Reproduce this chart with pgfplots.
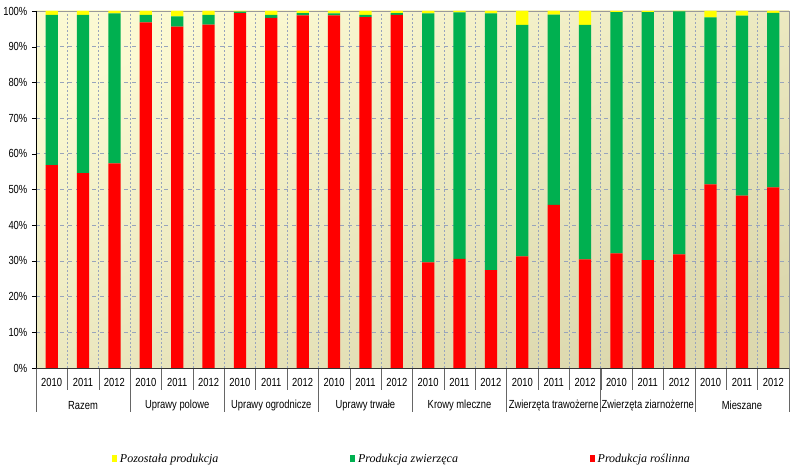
\documentclass[border=0pt]{standalone}
\usepackage{fontspec}
\setmainfont{Liberation Sans}[FakeStretch=0.8]
\newfontfamily\legfont{Liberation Serif}
\usepackage{pgfplots}
\pgfplotsset{compat=1.18}
\definecolor{cred}{HTML}{FF0000}
\definecolor{cgreen}{HTML}{00B050}
\definecolor{cyellow}{HTML}{FFFF00}
\definecolor{bgA}{HTML}{FBF9D2}
\definecolor{bgB}{HTML}{DCD8AE}
\definecolor{gridc}{HTML}{98A4BC}
\pgfplotstableread{
x red green yellow
0  56.8 42.1 1.1
1  54.6 44.3 1.1
2  57.3 42.0 0.7
3  96.8 2.1 1.1
4  95.6 2.9 1.5
5  96.2 2.7 1.1
6  99.4 0.4 0.2
7  98.1 0.8 1.1
8  98.8 0.6 0.6
9  98.8 0.5 0.7
10 98.3 0.6 1.1
11 98.9 0.5 0.6
12 29.6 69.7 0.7
13 30.6 69.0 0.4
14 27.4 71.9 0.7
15 31.3 64.8 3.9
16 45.7 53.3 1.0
17 30.4 65.7 3.9
18 32.1 67.6 0.3
19 30.2 69.5 0.3
20 31.8 68.1 0.1
21 51.4 46.8 1.8
22 48.3 50.4 1.3
23 50.6 48.9 0.5
}\datatab
\begin{document}
\begin{tikzpicture}
\begin{axis}[
  name=ax,
  scale only axis,
  width=564.75pt, height=267.75pt,
  ybar stacked, bar width=0.39,
  xmin=-0.5, xmax=23.5, ymin=0, ymax=100,
  clip=false,
  font=\fontsize{8.8}{10}\selectfont,
  /pgf/number format/assume math mode=true,
  axis background/.style={shade, top color=bgA, bottom color=bgB, shading angle=25},
  axis line style={draw=gray!80},
  xtick={0,...,23},
  xticklabels={2010,2011,2012,2010,2011,2012,2010,2011,2012,2010,2011,2012,2010,2011,2012,2010,2011,2012,2010,2011,2012,2010,2011,2012},
  minor xtick={-0.5,0.5,...,23.5},
  xminorgrids, ymajorgrids,
  grid style={gridc, dashed, line width=0.5pt},
  minor grid style={gridc, dash pattern=on 1.5pt off 1.5pt, line width=0.5pt},
  major x tick style={draw=none},
  minor x tick style={draw=gray!80!black},
  tick align=outside,
  xtick pos=bottom, ytick pos=left,
  major tick length=3pt, minor tick length=16.5pt,
  ytick={0,10,...,100},
  yticklabels={0\%,10\%,20\%,30\%,40\%,50\%,60\%,70\%,80\%,90\%,100\%},
  xticklabel style={yshift=-1.5pt},
  ytick style={draw=black},
  reverse legend,
  legend columns=3,
  legend style={at={(rel axis cs:0,0)}, anchor=west, xshift=54pt, yshift=-68.25pt,
    draw=none, fill=none, font=\legfont\itshape\fontsize{9}{10}\selectfont,
    /tikz/every even column/.append style={column sep=97pt}},
  legend image code/.code={\fill[#1, draw=none] (0pt,-2.5pt) rectangle (3.75pt,3pt);},
]
\addplot[fill=cred, draw=none] table[x=x, y=red] {\datatab};
\addlegendentry{Produkcja roślinna}
\addplot[fill=cgreen, draw=none] table[x=x, y=green] {\datatab};
\addlegendentry{Produkcja zwierzęca}
\addplot[fill=cyellow, draw=none] table[x=x, y=yellow] {\datatab};
\addlegendentry{Pozostała produkcja}
\draw[black] (rel axis cs:0,0) -- (rel axis cs:0,1);
\draw[black!80] (rel axis cs:0,0) -- (rel axis cs:1,0);
\pgfplotsinvokeforeach{-0.5,2.5,5.5,8.5,11.5,14.5,17.5,20.5,23.5}{
  \draw[gray!80!black] (axis cs:#1,0) -- ++(0pt,-33pt);
}
\node[font=\fontsize{8.8}{10}\selectfont] at (axis cs:1,0) [yshift=-28pt] {Razem};
\node[font=\fontsize{8.8}{10}\selectfont] at (axis cs:4,0) [yshift=-28pt] {Uprawy polowe};
\node[font=\fontsize{8.8}{10}\selectfont] at (axis cs:7,0) [yshift=-28pt] {Uprawy ogrodnicze};
\node[font=\fontsize{8.8}{10}\selectfont] at (axis cs:10,0) [yshift=-28pt] {Uprawy trwałe};
\node[font=\fontsize{8.8}{10}\selectfont] at (axis cs:13,0) [yshift=-28pt] {Krowy mleczne};
\node[font=\fontsize{8.8}{10}\selectfont] at (axis cs:16,0) [yshift=-28pt] {Zwierzęta trawożerne};
\node[font=\fontsize{8.8}{10}\selectfont] at (axis cs:19,0) [yshift=-28pt] {Zwierzęta ziarnożerne};
\node[font=\fontsize{8.8}{10}\selectfont] at (axis cs:22,0) [yshift=-28pt] {Mieszane};
\coordinate (bl) at ([xshift=-27pt, yshift=-78.75pt]rel axis cs:0,0);
\coordinate (tr) at ([xshift=8.25pt, yshift=8.25pt]rel axis cs:1,1);
\end{axis}
\pgfresetboundingbox
\path[use as bounding box] (bl) rectangle (tr);
\end{tikzpicture}
\end{document}
